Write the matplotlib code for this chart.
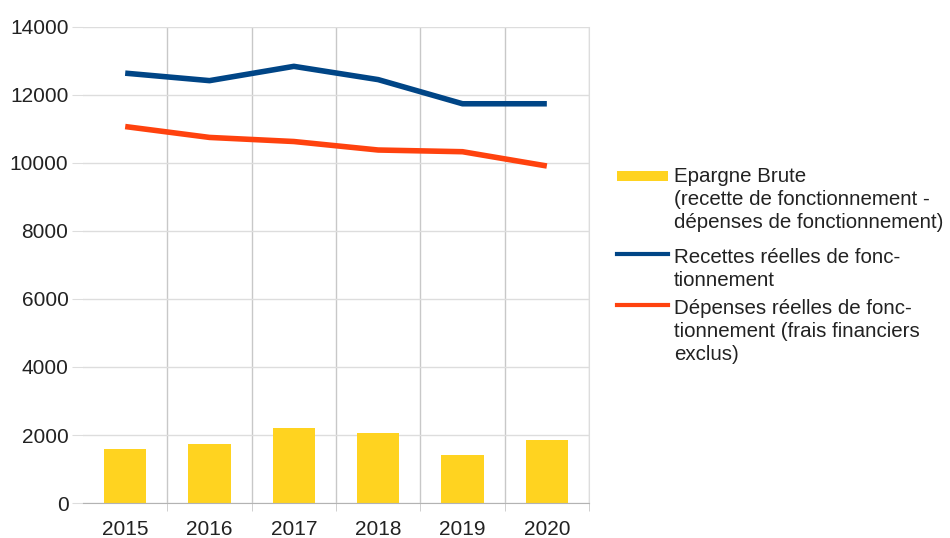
import matplotlib
matplotlib.use("Agg")
import matplotlib.pyplot as plt
from matplotlib.lines import Line2D
from matplotlib.patches import Rectangle

plt.rcParams['font.family'] = ['Liberation Sans', 'DejaVu Sans']

# Données
annees = ['2015', '2016', '2017', '2018', '2019', '2020']
epargne_brute = [1600, 1750, 2220, 2070, 1400, 1840]
recettes = [12640, 12420, 12840, 12450, 11740, 11740]
depenses = [11070, 10750, 10630, 10380, 10330, 9910]

labels = [
    "Epargne Brute\n(recette de fonctionnement -\ndépenses de fonctionnement)",
    "Recettes réelles de fonc-\ntionnement",
    "Dépenses réelles de fonc-\ntionnement (frais financiers\nexclus)",
]
jaune, bleu, orange = '#FFD320', '#004586', '#FF420E'
gris = '#b3b3b3'

fig = plt.figure(figsize=(9.5, 5.38), dpi=100)
ax = fig.add_axes([0.0874, 0.065, 0.5326, 0.885])

x = list(range(len(annees)))
ax.bar(x, epargne_brute, width=0.5, color=jaune, zorder=2)
ax.plot(x, recettes, color=bleu, lw=4, zorder=3, solid_capstyle='butt')
ax.plot(x, depenses, color=orange, lw=4, zorder=3, solid_capstyle='butt')

ax.set_xlim(-0.5, len(annees) - 0.5)
ax.set_ylim(0, 14000)
ax.set_yticks(range(0, 14001, 2000))
ax.set_xticks(x)
ax.set_xticklabels(annees)
ax.set_xticks([i + 0.5 for i in range(len(annees))], minor=True)

ax.grid(axis='y', color='#dddddd', lw=1, zorder=0)
ax.grid(axis='x', which='minor', color='#c8c8c8', lw=1, zorder=0)
ax.tick_params(axis='y', length=8, color='#dddddd', labelsize=15, pad=2.5,
               labelcolor='#222222')
ax.tick_params(axis='x', which='major', length=0, labelsize=15, pad=12,
               labelcolor='#222222')
ax.tick_params(axis='x', which='minor', length=6, color='#c8c8c8')

for s in ['left', 'top']:
    ax.spines[s].set_visible(False)
ax.spines['right'].set_color('#dddddd')
ax.spines['bottom'].set_color(gris)

# Légende
W, H = 950, 538
def fx(px):
    return px / W
def fy(py):
    return 1 - py / H

y_entrees = [167, 248, 299]
fig.add_artist(Rectangle((fx(617), fy(181)), fx(668) - fx(617), fy(171) - fy(181),
                         facecolor=jaune, edgecolor='none'))
fig.add_artist(Line2D([fx(617), fx(668)], [fy(254), fy(254)], color=bleu, lw=3))
fig.add_artist(Line2D([fx(617), fx(668)], [fy(305), fy(305)], color=orange, lw=3))
for y0, lab in zip(y_entrees, labels):
    fig.text(fx(674), fy(y0), lab, fontsize=14.8, va='top', ha='left',
             linespacing=1.27, color='#222222')

fig.savefig('out.png', dpi=100)
